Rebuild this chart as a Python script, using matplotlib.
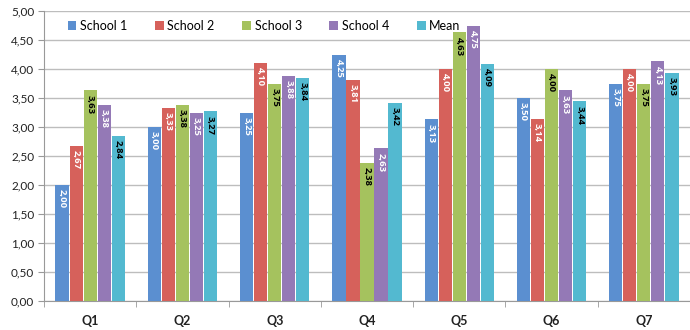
import matplotlib
matplotlib.use("Agg")
import matplotlib.pyplot as plt
import numpy as np

categories = ["Q1", "Q2", "Q3", "Q4", "Q5", "Q6", "Q7"]
series_names = ["School 1", "School 2", "School 3", "School 4", "Mean"]
school1 = [2.00, 3.00, 3.25, 4.25, 3.13, 3.50, 3.75]
school2 = [2.67, 3.33, 4.10, 3.81, 4.00, 3.14, 4.00]
school3 = [3.63, 3.38, 3.75, 2.38, 4.63, 4.00, 3.75]
school4 = [3.38, 3.25, 3.88, 2.63, 4.75, 3.63, 4.13]
mean = [2.84, 3.27, 3.84, 3.42, 4.09, 3.44, 3.93]
y_ticks = [0, 0.5, 1.0, 1.5, 2.0, 2.5, 3.0, 3.5, 4.0, 4.5, 5.0]

series = [school1, school2, school3, school4, mean]
colors = ["#5B8FD0", "#D6615B", "#A5C25E", "#9479B6", "#53B9D0"]
label_colors = ["white", "white", "black", "white", "black"]

plt.rcParams["font.family"] = ["Lato", "DejaVu Sans"]

fig = plt.figure(figsize=(6.9, 3.3), dpi=100)
ax = fig.add_axes([44 / 690, 29 / 330, 646 / 690, 290 / 330])

x = np.arange(len(categories))
w = 0.152
for i, (vals, c, lc, name) in enumerate(zip(series, colors, label_colors, series_names)):
    pos = x + (i - 2) * w
    bars = ax.bar(pos, vals, width=w * 0.94, color=c, label=name, zorder=3)
    for b, v in zip(bars, vals):
        ax.annotate(f"{v:.2f}".replace(".", ","),
                    xy=(b.get_x() + b.get_width() / 2, v),
                    xytext=(0, -3), textcoords="offset points",
                    ha="center", va="top", rotation=-90,
                    fontsize=6.8, fontweight="bold", color=lc, zorder=4,
                    family=["Open Sans", "DejaVu Sans"])

ax.set_ylim(0, 5)
ax.set_xlim(-0.5, len(categories) - 0.5)
ax.set_yticks(y_ticks)
ax.set_yticklabels([f"{t:.2f}".replace(".", ",") for t in y_ticks], fontsize=8.5, color="#222222")
ax.yaxis.grid(True, color="#BDBDBD", linewidth=1, zorder=0)
ax.set_axisbelow(True)

ax.set_xticks(x)
ax.set_xticklabels(categories, fontsize=9, fontweight="bold", color="#222222")
ax.tick_params(axis="x", which="major", length=0, pad=10)
ax.set_xticks(np.arange(-0.5, len(categories), 1), minor=True)
ax.tick_params(axis="x", which="minor", length=4, color="#999999", direction="out")
ax.tick_params(axis="y", length=4, color="#999999", pad=3)

for s in ["top", "right"]:
    ax.spines[s].set_visible(False)
for s in ["left", "bottom"]:
    ax.spines[s].set_color("#999999")

leg = ax.legend(loc="upper left", bbox_to_anchor=(0.025, 0.995), ncol=5, frameon=False,
                fontsize=9, handlelength=0.7, handleheight=0.7, handletextpad=0.3,
                columnspacing=2.2, borderaxespad=0.2)

fig.savefig("out.png", dpi=100)
